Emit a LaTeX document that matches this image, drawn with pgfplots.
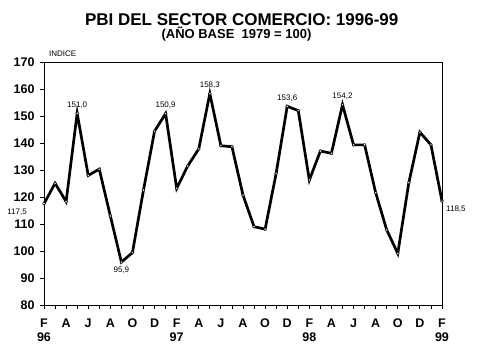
\documentclass[border=0pt]{standalone}
\usepackage{fontspec}
\setmainfont{Liberation Sans}
\usepackage{pgfplots}
\pgfplotsset{compat=1.18}
\begin{document}
\begin{tikzpicture}[x=1pt,y=1pt]
\path[use as bounding box] (0,0) rectangle (479,359);
\node[font=\fontsize{17}{20}\selectfont\bfseries] at (241.7,339.5) {PBI DEL SECTOR COMERCIO: 1996-99};
\node[font=\fontsize{13}{15}\selectfont\bfseries] at (236.5,325) {(AÑO BASE\ \ 1979 = 100)};
\node[font=\fontsize{8}{9}\selectfont, anchor=west, inner sep=0pt] at (49,305) {INDICE};
\begin{axis}[
  at={(44pt,54pt)}, anchor=south west,
  scale only axis, width=398pt, height=243pt,
  xmin=0, xmax=36, ymin=80, ymax=170,
  ytick={80,90,...,170},
  xtick={0,2,...,36},
  minor xtick={1,3,...,35},
  xticklabels={{F\\96},A,J,A,O,D,{F\\97},A,J,A,O,D,{F\\98},A,J,A,O,D,{F\\99}},
  xticklabel style={align=center, font=\fontsize{12.5}{14}\selectfont\bfseries, yshift=-6pt},
  yticklabel style={font=\fontsize{12.5}{14}\selectfont\bfseries, xshift=-2pt},
  /pgf/number format/assume math mode=true,
  tick align=outside,
  xtick pos=bottom, ytick pos=left,
  major tick length=4pt, minor tick length=4pt,
  tick style={black, line width=0.8pt},
  axis line style={line width=0.8pt},
  clip=false,
]
\addplot[black, line width=2.7pt, mark=*, mark size=1.4pt,
  mark options={fill=white, draw=black, line width=0.5pt}]
coordinates {
(0,117.5)(1,125.1)(2,118.3)(3,151.0)(4,128.0)(5,130.3)(6,113.0)(7,95.9)(8,99.4)
(9,122.6)(10,144.4)(11,150.9)(12,123.2)(13,131.5)(14,137.8)(15,158.3)(16,139.0)
(17,138.6)(18,120.7)(19,109.0)(20,108.1)(21,128.8)(22,153.6)(23,152.0)(24,126.3)
(25,137.0)(26,136.2)(27,154.2)(28,139.3)(29,139.3)(30,121.6)(31,107.8)(32,99.1)
(33,125.3)(34,144.0)(35,139.3)(36,118.5)
};
\begin{scope}[every node/.style={font=\fontsize{8}{9}\selectfont, inner sep=1pt}]
\node[above=4pt] at (axis cs:3,151.0) {151,0};
\node[above=4pt] at (axis cs:11,150.9) {150,9};
\node[above=4pt] at (axis cs:15,158.3) {158,3};
\node[above=4pt] at (axis cs:22,153.6) {153,6};
\node[above=4pt] at (axis cs:27,154.2) {154,2};
\node[below=4pt] at (axis cs:7,95.9) {95,9};
\node[anchor=east, xshift=-16pt, yshift=-9pt] at (axis cs:0,117.5) {117,5};
\node[anchor=west, xshift=3pt, yshift=-8pt] at (axis cs:36,118.5) {118,5};
\end{scope}
\end{axis}
\end{tikzpicture}
\end{document}
